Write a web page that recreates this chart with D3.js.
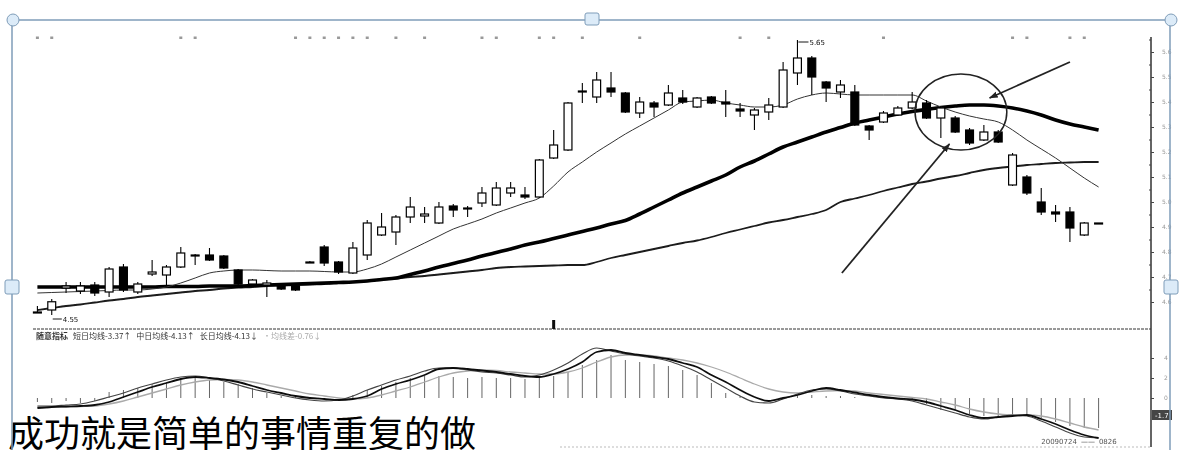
<!DOCTYPE html>
<html>
<head>
<meta charset="utf-8">
<style>
    html, body { margin: 0; padding: 0; background: #fff; }
    svg { display: block; }
</style>
<script src="https://cdn.jsdelivr.net/npm/d3@7"></script>
</head>
<body>
<svg width="1182" height="450"></svg>
<script>

    // daily candles (index 0..74)
    const opens  = [4.560,4.568,4.656,4.644,4.668,4.640,4.740,4.640,4.712,4.708,4.740,4.784,4.788,4.784,4.728,4.672,4.668,4.668,4.664,4.760,
                    4.820,4.760,4.716,4.788,4.868,4.880,4.940,4.944,4.916,4.984,4.972,4.996,4.988,5.036,5.028,5.020,5.176,5.208,5.440,5.420,
                    5.456,5.436,5.356,5.396,5.388,5.416,5.380,5.420,5.400,5.372,5.348,5.360,5.380,5.516,5.576,5.480,5.440,5.440,5.304,5.320,
                    5.348,5.376,5.396,5.336,5.336,5.288,5.248,5.280,5.068,5.100,5.000,4.960,4.960,4.868,4.916];
    const closes = [4.560,4.601,4.664,4.664,4.636,4.732,4.648,4.672,4.720,4.740,4.796,4.788,4.768,4.736,4.672,4.688,4.676,4.652,4.648,4.760,
                    4.756,4.720,4.816,4.916,4.900,4.940,4.980,4.952,4.980,4.968,4.976,5.036,5.056,5.056,5.020,5.168,5.228,5.396,5.444,5.488,
                    5.440,5.360,5.400,5.380,5.436,5.400,5.416,5.396,5.392,5.364,5.368,5.388,5.528,5.576,5.500,5.456,5.468,5.308,5.288,5.356,
                    5.376,5.400,5.336,5.376,5.280,5.236,5.280,5.240,5.188,5.036,4.960,4.952,4.896,4.916,4.916];
    const highs  = [4.584,4.612,4.680,4.680,4.680,4.740,4.752,4.680,4.768,4.748,4.820,4.792,4.816,4.788,4.732,4.692,4.688,4.672,4.668,4.764,
                    4.828,4.764,4.840,4.928,4.956,4.948,5.020,4.980,5.000,4.992,4.984,5.060,5.080,5.080,5.060,5.172,5.288,5.400,5.476,5.520,
                    5.520,5.440,5.420,5.404,5.468,5.448,5.420,5.424,5.448,5.396,5.376,5.416,5.560,5.648,5.584,5.484,5.488,5.468,5.308,5.364,
                    5.384,5.440,5.408,5.384,5.344,5.296,5.308,5.288,5.196,5.108,5.056,4.988,4.980,4.920,4.916];
    const lows   = [4.560,4.548,4.636,4.632,4.624,4.620,4.640,4.632,4.704,4.668,4.736,4.748,4.764,4.732,4.664,4.668,4.620,4.648,4.644,4.756,
                    4.744,4.712,4.712,4.768,4.864,4.828,4.916,4.916,4.912,4.940,4.940,4.980,4.984,5.020,5.012,5.016,5.172,5.204,5.396,5.396,
                    5.420,5.356,5.336,5.340,5.384,5.392,5.376,5.392,5.340,5.340,5.288,5.328,5.376,5.468,5.428,5.400,5.416,5.304,5.248,5.316,
                    5.344,5.372,5.332,5.256,5.276,5.228,5.244,5.236,5.064,5.028,4.948,4.920,4.840,4.864,4.916];

    // moving averages
    const maShort = [4.636,4.638,4.640,4.642,4.644,4.646,4.648,4.648,4.652,4.660,4.676,4.696,4.716,4.724,4.728,4.728,4.726,4.724,4.724,4.724,
                     4.722,4.720,4.720,4.732,4.752,4.780,4.808,4.836,4.864,4.892,4.912,4.932,4.956,4.976,4.996,5.016,5.064,5.120,5.160,5.200,
                     5.236,5.272,5.304,5.336,5.368,5.400,5.404,5.408,5.396,5.388,5.380,5.380,5.388,5.412,5.428,5.436,5.432,5.428,5.428,5.428,
                     5.428,5.428,5.404,5.380,5.360,5.344,5.332,5.320,5.288,5.248,5.212,5.176,5.136,5.096,5.060];
    const maMid   = [4.660,4.660,4.660,4.660,4.660,4.660,4.660,4.660,4.660,4.662,4.662,4.662,4.664,4.664,4.664,4.666,4.668,4.670,4.672,4.674,
                     4.676,4.678,4.680,4.684,4.690,4.696,4.710,4.724,4.740,4.754,4.768,4.784,4.798,4.812,4.828,4.840,4.854,4.868,4.882,4.896,
                     4.912,4.926,4.952,4.980,5.008,5.036,5.060,5.084,5.108,5.140,5.164,5.192,5.220,5.240,5.260,5.280,5.298,5.316,5.328,5.340,
                     5.352,5.362,5.370,5.378,5.384,5.388,5.388,5.384,5.376,5.364,5.348,5.328,5.312,5.300,5.288];
    const maLong  = [4.568,4.576,4.584,4.590,4.598,4.606,4.612,4.620,4.626,4.632,4.638,4.644,4.648,4.654,4.658,4.660,4.664,4.666,4.668,4.670,
                     4.672,4.676,4.680,4.684,4.690,4.694,4.700,4.704,4.710,4.716,4.722,4.728,4.736,4.740,4.742,4.744,4.746,4.748,4.748,4.760,
                     4.776,4.788,4.800,4.812,4.824,4.836,4.846,4.860,4.876,4.890,4.904,4.918,4.928,4.940,4.952,4.968,5.000,5.014,5.028,5.044,
                     5.058,5.072,5.082,5.094,5.104,5.116,5.128,5.136,5.142,5.148,5.152,5.156,5.158,5.160,5.160];

    // lower pane
    const lineA = [-1.0,-0.9,-0.85,-0.8,-0.7,-0.4,0.1,0.6,1.1,1.5,1.9,2.1,2.0,1.85,1.6,1.2,0.8,0.5,0.2,0.0,
                   -0.1,-0.2,-0.1,0.2,0.9,1.4,1.8,2.3,2.9,3.0,2.9,2.75,2.6,2.4,2.2,2.1,2.4,2.9,3.6,4.6,
                   4.8,4.5,4.3,4.1,3.9,3.5,3.1,2.3,1.6,0.8,0.1,-0.3,0.0,0.3,0.7,1.0,0.8,0.55,0.3,0.1,
                   -0.05,-0.15,-0.4,-0.8,-1.2,-1.7,-2.0,-1.9,-1.8,-1.7,-2.1,-2.6,-3.2,-3.7,-4.0];
    const lineB = [-0.8,-0.8,-0.7,-0.6,-0.3,0.1,0.5,1.0,1.4,1.8,2.1,2.2,2.0,1.7,1.3,0.9,0.6,0.3,0.0,-0.2,
                   -0.3,-0.2,0.2,0.8,1.3,1.8,2.2,2.7,3.0,3.0,2.8,2.6,2.5,2.3,2.1,2.3,2.8,3.5,4.4,5.0,
                   4.7,4.4,4.2,4.0,3.7,3.2,2.6,1.8,1.0,0.2,-0.4,-0.5,-0.1,0.4,0.8,0.9,0.7,0.4,0.2,0.0,
                   -0.1,-0.3,-0.7,-1.1,-1.5,-1.9,-2.1,-1.9,-1.7,-1.8,-2.3,-2.9,-3.5,-3.9,-4.0];
    const lineC = [-0.9,-0.9,-0.9,-0.85,-0.8,-0.6,-0.3,0.1,0.5,0.9,1.3,1.6,1.8,1.85,1.8,1.6,1.3,1.0,0.7,0.4,
                   0.2,0.0,-0.1,0.0,0.3,0.7,1.1,1.6,2.1,2.5,2.7,2.8,2.75,2.6,2.5,2.4,2.4,2.6,3.0,3.6,
                   4.1,4.3,4.3,4.2,4.0,3.8,3.5,3.1,2.6,2.0,1.4,0.9,0.6,0.5,0.6,0.7,0.75,0.7,0.5,0.35,
                   0.2,0.05,-0.1,-0.4,-0.7,-1.1,-1.4,-1.6,-1.7,-1.7,-1.8,-2.1,-2.5,-2.9,-3.2];
    const bars  = [-0.4,-0.5,-0.3,-0.5,-0.3,0.6,0.8,1.0,1.4,1.6,1.8,2.0,1.8,1.6,1.4,1.0,0.5,0.2,0.1,0,
                   0,0,0.3,0.8,1.2,1.6,2.0,2.2,2.2,2.1,2.0,2.1,2.0,2.0,1.9,2.0,2.2,2.6,3.3,3.8,
                   4.3,3.8,3.6,3.4,3.2,2.8,2.3,1.5,0.5,0.2,0,0,0,0.3,0.3,0.2,0.2,0.1,0,0,
                   0,-0.2,-0.6,-1.2,-1.3,-1.6,-1.8,-1.8,-1.8,-1.8,-2.0,-2.4,-2.8,-3.0,-3.0];

    const priceTicks = [4.6,4.7,4.8,4.9,5.0,5.1,5.2,5.3,5.4,5.5,5.6];
    const lowerTicks = [0, 2, 4];
    const dateMarks  = [0,1,10,11,18,19,20,21,22,23,25,27,31,32,35,36,38,42,49,51,59,68,69,72,73];
    const flagDays   = [36];
    const lowerTitle = ["随意指标", "短日均线-3.37↑", "中日均线-4.13↑", "长日均线-4.13↓", "·均线差-0.76↓"];
    const dateText   = ["20090724", "——", "0826"];
    const valueTag   = "-1.7";
    const caption    = "成功就是简单的事情重复的做";

    // hand drawn notes: ellipse centre/radius and two arrows, in (day, price)
    const noteCentre = [64.4, 5.36];
    const noteRadius = [3.2, 0.152];
    const noteArrows = [[[72.0, 5.56], [66.4, 5.416]], [[56.1, 4.716], [63.6, 5.232]]];

    const svg = d3.select("svg");
    const x  = d3.scaleLinear().domain([0, 74]).range([37.4, 1098.6]);
    const y  = d3.scaleLinear().domain([4.6, 5.6]).range([302, 52]);
    const yM = d3.scaleLinear().domain([0, 4]).range([398, 358]);
    const step = x(1) - x(0);
    const bodyW = step * 0.55;

    const defs = svg.append("defs");
    defs.append("filter").attr("id", "scan")
        .append("feGaussianBlur").attr("stdDeviation", 0.45);
    defs.append("marker")
        .attr("id", "head")
        .attr("viewBox", "0 0 10 10")
        .attr("refX", 9).attr("refY", 5)
        .attr("markerWidth", 5).attr("markerHeight", 5)
        .attr("orient", "auto")
        .append("path").attr("d", "M0,1.5L10,5L0,8.5Z").attr("fill", "#222");

    const g = svg.append("g").attr("filter", "url(#scan)");

    // little grey markers along the top
    g.append("g").selectAll("rect")
        .data(dateMarks)
        .join("rect")
            .attr("x", d => x(d) - 1.5)
            .attr("y", 36.5)
            .attr("width", 3)
            .attr("height", 2.5)
            .attr("fill", "#999");

    // pane separator
    g.append("line")
        .attr("x1", 33).attr("x2", 1151)
        .attr("y1", 329).attr("y2", 329)
        .attr("stroke", "#333").attr("stroke-dasharray", "3,1");
    g.append("g").selectAll("rect")
        .data(flagDays)
        .join("rect")
            .attr("x", d => x(d) - 1.5)
            .attr("y", 320)
            .attr("width", 3)
            .attr("height", 9)
            .attr("fill", "#111");

    // moving averages
    const maLine = d3.line().x((d, i) => x(i)).y(d => y(d)).curve(d3.curveMonotoneX);
    g.append("path").attr("d", maLine(maLong)).attr("fill", "none").attr("stroke", "#1a1a1a").attr("stroke-width", 1.8);
    g.append("path").attr("d", maLine(maMid)).attr("fill", "none").attr("stroke", "#000").attr("stroke-width", 3.6);
    g.append("path").attr("d", maLine(maShort)).attr("fill", "none").attr("stroke", "#333").attr("stroke-width", 1);

    // candles
    const days = d3.range(opens.length);
    const candle = g.append("g").selectAll("g")
        .data(days)
        .join("g");
    candle.append("line")
        .attr("x1", i => x(i)).attr("x2", i => x(i))
        .attr("y1", i => y(highs[i])).attr("y2", i => y(lows[i]))
        .attr("stroke", "#000").attr("stroke-width", 1.1);
    candle.append("rect")
        .attr("x", i => x(i) - bodyW / 2)
        .attr("y", i => y(Math.max(opens[i], closes[i])))
        .attr("width", bodyW)
        .attr("height", i => Math.max(1, Math.abs(y(opens[i]) - y(closes[i]))))
        .attr("fill", i => closes[i] >= opens[i] ? "#fff" : "#000")
        .attr("stroke", "#000")
        .attr("stroke-width", 1.2);

    // high / low labels
    const iLow = d3.minIndex(lows), iHigh = d3.maxIndex(highs);
    const fmt = d3.format(".2f");
    g.append("line")
        .attr("x1", x(iLow) + 10).attr("x2", x(iLow) + 1)
        .attr("y1", y(lows[iLow]) + 4).attr("y2", y(lows[iLow]) + 4)
        .attr("stroke", "#111");
    g.append("text")
        .attr("x", x(iLow) + 11).attr("y", y(lows[iLow]) + 7)
        .attr("font-family", "DejaVu Sans").attr("font-size", 7).attr("fill", "#111")
        .text(fmt(lows[iLow]));
    g.append("line")
        .attr("x1", x(iHigh) + 11).attr("x2", x(iHigh) + 1)
        .attr("y1", y(highs[iHigh]) + 2).attr("y2", y(highs[iHigh]) + 2)
        .attr("stroke", "#111");
    g.append("text")
        .attr("x", x(iHigh) + 12).attr("y", y(highs[iHigh]) + 5)
        .attr("font-family", "DejaVu Sans").attr("font-size", 7).attr("fill", "#111")
        .text(fmt(highs[iHigh]));

    // the circle and arrows someone drew on it
    g.append("ellipse")
        .attr("cx", x(noteCentre[0])).attr("cy", y(noteCentre[1]))
        .attr("rx", x(noteCentre[0] + noteRadius[0]) - x(noteCentre[0]))
        .attr("ry", y(noteCentre[1] - noteRadius[1]) - y(noteCentre[1]))
        .attr("fill", "none").attr("stroke", "#222").attr("stroke-width", 1.5);
    g.append("g").selectAll("line")
        .data(noteArrows)
        .join("line")
            .attr("x1", d => x(d[0][0])).attr("y1", d => y(d[0][1]))
            .attr("x2", d => x(d[1][0])).attr("y2", d => y(d[1][1]))
            .attr("stroke", "#222").attr("stroke-width", 1.8)
            .attr("marker-end", "url(#head)");

    // lower pane
    g.append("text")
        .attr("x", 36).attr("y", 339)
        .attr("font-family", "Noto Sans CJK SC").attr("font-size", 8)
        .selectAll("tspan")
        .data(lowerTitle)
        .join("tspan")
            .attr("dx", (d, i) => i ? 5 : 0)
            .attr("font-weight", (d, i) => i ? "normal" : "bold")
            .attr("fill", (d, i) => i === lowerTitle.length - 1 ? "#aaa" : "#333")
            .text(d => d);

    g.append("g").selectAll("line")
        .data(bars)
        .join("line")
            .attr("x1", (d, i) => x(i)).attr("x2", (d, i) => x(i))
            .attr("y1", yM(0)).attr("y2", d => yM(d))
            .attr("stroke", "#666").attr("stroke-width", 1);

    const lowLine = d3.line().x((d, i) => x(i)).y(d => yM(d)).curve(d3.curveMonotoneX);
    g.append("path").attr("d", lowLine(lineC)).attr("fill", "none").attr("stroke", "#aaa").attr("stroke-width", 1.3);
    g.append("path").attr("d", lowLine(lineB)).attr("fill", "none").attr("stroke", "#444").attr("stroke-width", 1.2);
    g.append("path").attr("d", lowLine(lineA)).attr("fill", "none").attr("stroke", "#111").attr("stroke-width", 1.8);

    // right axes
    g.append("line")
        .attr("x1", 1151).attr("x2", 1151)
        .attr("y1", 37).attr("y2", 447)
        .attr("stroke", "#333").attr("stroke-width", 1.5);
    const axisStyle = a => a
        .call(a => a.select(".domain").remove())
        .call(a => a.selectAll("line").attr("stroke", "#444"))
        .call(a => a.selectAll("text")
            .attr("fill", "#999")
            .attr("font-size", 6)
            .attr("font-family", "DejaVu Sans"));
    g.append("g")
        .attr("transform", "translate(1151,0)")
        .call(d3.axisRight(y).tickValues(priceTicks).tickSize(3).tickPadding(8).tickFormat(d3.format(".1f")))
        .call(axisStyle);
    g.append("g")
        .attr("transform", "translate(1151,0)")
        .call(d3.axisLeft(y).tickValues(priceTicks.map(d => d + 0.05)).tickSize(2).tickFormat(""))
        .call(axisStyle);
    g.append("g")
        .attr("transform", "translate(1151,0)")
        .call(d3.axisRight(yM).tickValues(lowerTicks).tickSize(3).tickPadding(10).tickFormat(d3.format("d")))
        .call(axisStyle);

    g.append("rect")
        .attr("x", 1152).attr("y", yM(-1.7) - 5)
        .attr("width", 20).attr("height", 10)
        .attr("fill", "#444");
    g.append("text")
        .attr("x", 1155).attr("y", yM(-1.7) + 2.5)
        .attr("font-family", "DejaVu Sans").attr("font-size", 7).attr("fill", "#fff")
        .text(valueTag);

    g.append("line")
        .attr("x1", 560).attr("x2", 1151)
        .attr("y1", 447).attr("y2", 447)
        .attr("stroke", "#bbb").attr("stroke-dasharray", "2,2");
    g.append("text")
        .attr("x", x(70)).attr("y", 444)
        .attr("font-family", "DejaVu Sans").attr("font-size", 7)
        .selectAll("tspan")
        .data(dateText)
        .join("tspan")
            .attr("dx", (d, i) => i ? 4 : 0)
            .attr("fill", (d, i) => i === 1 ? "#333" : "#555")
            .text(d => d);

    // caption over the picture
    svg.append("text")
        .attr("x", 8).attr("y", 447)
        .attr("font-family", "Noto Sans CJK SC")
        .attr("font-size", 36)
        .attr("fill", "#000")
        .text(caption);

    // selection frame of the pasted picture
    const frame = svg.append("g").attr("stroke", "#7f9db9").attr("stroke-width", 1.5).attr("fill", "none");
    frame.append("line").attr("x1", 12).attr("x2", 1170).attr("y1", 20).attr("y2", 20);
    frame.append("line").attr("x1", 12).attr("x2", 12).attr("y1", 20).attr("y2", 450);
    frame.append("line").attr("x1", 1170).attr("x2", 1170).attr("y1", 20).attr("y2", 450);
    const handles = svg.append("g").attr("stroke", "#7f9db9").attr("stroke-width", 1).attr("fill", "#dcebf8");
    handles.append("circle").attr("cx", 13).attr("cy", 20).attr("r", 6);
    handles.append("circle").attr("cx", 1171).attr("cy", 20).attr("r", 6);
    handles.append("rect").attr("x", 585).attr("y", 13).attr("width", 14).attr("height", 12).attr("rx", 2);
    handles.append("rect").attr("x", 5).attr("y", 280).attr("width", 14).attr("height", 14).attr("rx", 2);
    handles.append("rect").attr("x", 1164).attr("y", 280).attr("width", 14).attr("height", 14).attr("rx", 2);

</script>
</body>
</html>
